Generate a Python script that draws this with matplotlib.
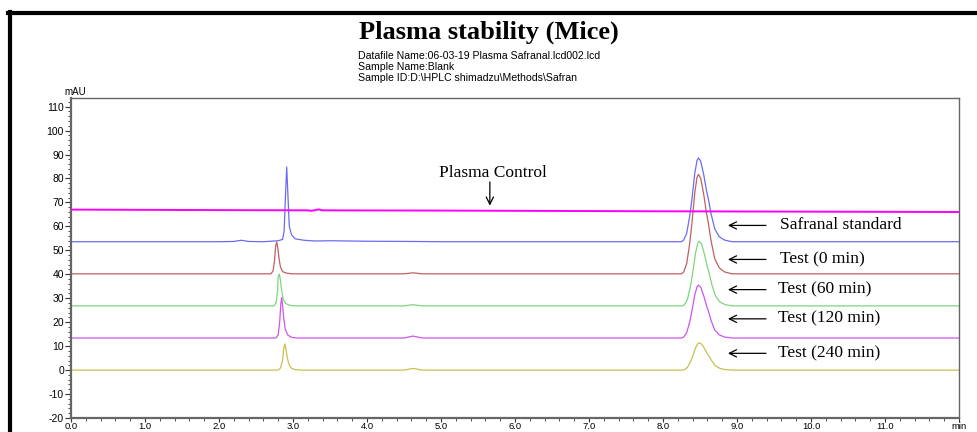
import matplotlib
matplotlib.use("Agg")
import matplotlib.pyplot as plt
from matplotlib.lines import Line2D
from matplotlib.ticker import MultipleLocator

plt.rcParams["axes.unicode_minus"] = False

# ---------------- data ----------------
title = "Plasma stability (Mice)"
info_lines = ["Datafile Name:06-03-19 Plasma Safranal.lcd002.lcd",
              "Sample Name:Blank",
              "Sample ID:D:\\HPLC shimadzu\\Methods\\Safran"]

control_t = [0.0, 2.0, 3.2, 3.25, 3.3, 3.35, 3.4, 5.0, 8.0, 12.0]
control_y = [67.0, 66.8, 66.7, 66.5, 66.8, 67.1, 66.7, 66.6, 66.3, 66.0]

std_t = [0.0, 2.0, 2.2, 2.3, 2.4, 2.6, 2.80, 2.86, 2.88, 2.90, 2.915, 2.93, 2.95, 2.98, 3.03, 3.15,
         3.3, 3.5, 4.0, 4.6, 5.0, 8.0, 8.25, 8.28, 8.32, 8.36, 8.39, 8.43, 8.46, 8.48, 8.51, 8.55,
         8.59, 8.615, 8.65, 8.70, 8.76, 8.83, 8.93, 10.0, 12.0]
std_y = [53.6, 53.6, 53.7, 54.2, 53.7, 53.6, 54.0, 54.6, 58.0, 74.0, 84.8, 74.0, 60.0, 56.5, 54.8, 54.2,
         53.9, 54.0, 53.8, 53.7, 53.6, 53.6, 53.6, 54.3, 57.1, 64.1, 71.1, 82.3, 87.5, 88.6, 87.2, 81.6,
         74.6, 71.1, 65.2, 58.9, 55.7, 54.3, 53.6, 53.6, 53.6]

t0_t = [0.0, 2.70, 2.73, 2.75, 2.765, 2.78, 2.795, 2.81, 2.83, 2.86, 2.91, 2.98, 4.5, 4.62, 4.75,
        8.0, 8.25, 8.28, 8.32, 8.36, 8.39, 8.43, 8.46, 8.48, 8.51, 8.55, 8.59, 8.615, 8.65, 8.70,
        8.76, 8.83, 8.93, 12.0]
t0_y = [40.2, 40.2, 41.3, 45.6, 51.6, 53.5, 50.9, 46.9, 43.1, 41.1, 40.5, 40.2, 40.2, 40.6, 40.2,
        40.2, 40.2, 41.0, 44.4, 52.7, 61.0, 74.2, 80.5, 81.7, 80.0, 73.4, 65.1, 61.0, 53.9, 46.4,
        42.7, 41.0, 40.2, 40.2]

t60_t = [0.0, 2.74, 2.77, 2.79, 2.80, 2.815, 2.83, 2.845, 2.865, 2.90, 2.95, 3.02, 4.5, 4.62, 4.75,
         8.0, 8.26, 8.29, 8.33, 8.37, 8.40, 8.44, 8.47, 8.49, 8.52, 8.56, 8.60, 8.625, 8.66, 8.71,
         8.77, 8.84, 8.94, 12.0]
t60_y = [26.8, 26.8, 27.9, 32.5, 38.9, 40.1, 37.6, 33.6, 29.9, 27.8, 27.1, 26.8, 26.8, 27.3, 26.8,
         26.8, 26.8, 27.3, 29.5, 34.9, 40.3, 48.9, 53.0, 53.8, 52.7, 48.4, 43.0, 40.3, 35.7, 30.9,
         28.4, 27.3, 26.8, 26.8]

t120_t = [0.0, 2.77, 2.80, 2.82, 2.835, 2.847, 2.86, 2.875, 2.895, 2.93, 2.98, 3.05, 4.5, 4.62, 4.75,
          8.0, 8.25, 8.28, 8.32, 8.36, 8.39, 8.43, 8.46, 8.48, 8.51, 8.55, 8.59, 8.615, 8.65, 8.70,
          8.76, 8.83, 8.93, 12.0]
t120_y = [13.4, 13.4, 14.7, 20.0, 27.5, 30.3, 26.7, 21.7, 17.1, 14.6, 13.7, 13.4, 13.4, 14.2, 13.4,
          13.4, 13.4, 13.8, 15.6, 20.0, 24.5, 31.5, 34.8, 35.5, 34.6, 31.1, 26.7, 24.5, 20.7, 16.7,
          14.7, 13.8, 13.4, 13.4]

t240_t = [0.0, 2.80, 2.83, 2.86, 2.875, 2.89, 2.905, 2.92, 2.945, 2.98, 3.03, 3.1, 4.5, 4.62, 4.75,
          8.0, 8.26, 8.29, 8.33, 8.37, 8.40, 8.44, 8.47, 8.49, 8.52, 8.56, 8.60, 8.625, 8.66, 8.71,
          8.77, 8.84, 8.94, 12.0]
t240_y = [0.0, 0.0, 0.8, 4.2, 9.2, 10.9, 8.7, 5.5, 2.4, 0.7, 0.2, 0.0, 0.0, 0.7, 0.0,
          0.0, 0.0, 0.2, 1.1, 3.4, 5.7, 9.3, 11.1, 11.4, 10.9, 9.1, 6.8, 5.7, 3.8, 1.7,
          0.7, 0.2, 0.0, 0.0]

labels = ["Safranal standard", "Test (0 min)", "Test (60 min)", "Test (120 min)", "Test (240 min)"]
label_x = [9.58, 9.58, 9.55, 9.55, 9.55]
label_y = [60.4, 46.2, 33.6, 21.4, 7.0]
control_label = "Plasma Control"

x_ticks = [0, 1, 2, 3, 4, 5, 6, 7, 8, 9, 10, 11, 12]
x_ticklabels = ["0.0", "1.0", "2.0", "3.0", "4.0", "5.0", "6.0", "7.0", "8.0", "9.0", "10.0", "11.0", "min"]
y_ticks = [-20, -10, 0, 10, 20, 30, 40, 50, 60, 70, 80, 90, 100, 110]

# ---------------- figure ----------------
fig = plt.figure(figsize=(9.77, 4.32), dpi=100)
ax = fig.add_axes([71 / 977, 1 - 418 / 432, (959 - 71) / 977, (418 - 98) / 432])

ax.plot(control_t, control_y, color="#FF00FF", lw=1.4, zorder=6)
ax.plot(std_t, std_y, color="#6B6BF5", lw=0.9)
ax.plot(t0_t, t0_y, color="#C06060", lw=0.9)
ax.plot(t60_t, t60_y, color="#7FD47F", lw=0.9)
ax.plot(t120_t, t120_y, color="#CC55EE", lw=0.9)
ax.plot(t240_t, t240_y, color="#C8C050", lw=0.9)

ax.set_xlim(0, 12)
ax.set_ylim(-20, 113.6)
ax.set_xticks(x_ticks)
ax.set_xticklabels(x_ticklabels)
ax.set_yticks(y_ticks)
ax.xaxis.set_minor_locator(MultipleLocator(0.2))
ax.yaxis.set_minor_locator(MultipleLocator(2))
ax.tick_params(axis="y", which="major", direction="out", length=4, width=0.8,
               labelsize=7.5, colors="#333333", pad=1)
ax.tick_params(axis="x", which="major", direction="out", length=3, width=0.8,
               labelsize=6.8, colors="#333333", pad=0)
ax.tick_params(axis="both", which="minor", direction="out", length=2, width=0.6, colors="#333333")
for lbl in ax.get_xticklabels() + ax.get_yticklabels():
    lbl.set_family("Liberation Sans")
    lbl.set_color("black")
for sp in ax.spines.values():
    sp.set_color("#666666")
    sp.set_linewidth(1.0)
ax.spines["left"].set_linewidth(1.6)
ax.spines["bottom"].set_linewidth(1.6)

ax.text(-0.007, 1.004, "mAU", transform=ax.transAxes, fontsize=7,
        family="Liberation Sans", ha="left", va="bottom")

# annotations
serif = "Liberation Serif"
ax.text(5.70, 82.4, control_label, fontsize=12.5, family=serif, ha="center", va="center")
ax.annotate("", xy=(5.66, 67.5), xytext=(5.66, 79.7),
            arrowprops=dict(arrowstyle="->", color="black", lw=0.9, mutation_scale=13))
for lab, xx, yy in zip(labels, label_x, label_y):
    ax.annotate("", xy=(8.84, yy), xytext=(9.43, yy),
                arrowprops=dict(arrowstyle="->", color="black", lw=0.9, mutation_scale=13))
    ax.text(xx, yy, lab, fontsize=12.5, family=serif, ha="left", va="center")

# header
fig.text(489 / 977, 1 - 32 / 432, title, fontsize=19, fontweight="bold", family=serif,
         ha="center", va="center")
for i, line in enumerate(info_lines):
    fig.text(358 / 977, 1 - (56 + 11 * i) / 432, line, fontsize=7.6,
             family="Liberation Sans", ha="left", va="center")

# outer frame
fig.add_artist(Line2D([8 / 977, 1.0], [1 - 13 / 432, 1 - 13 / 432], color="black", lw=3,
                      transform=fig.transFigure))
fig.add_artist(Line2D([9.5 / 977, 9.5 / 977], [0, 1 - 12 / 432], color="black", lw=3,
                      transform=fig.transFigure))

fig.savefig("out.png", dpi=100)
